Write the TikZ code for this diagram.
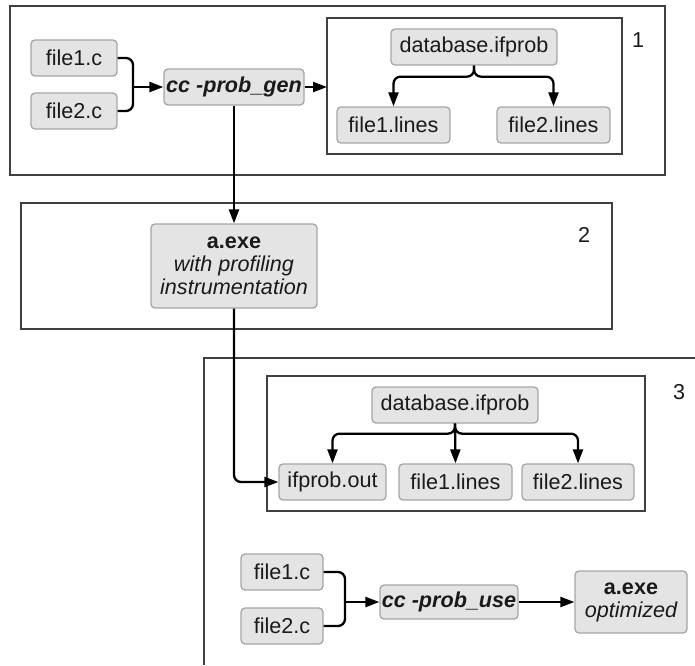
\documentclass[tikz,border=0pt]{standalone}
\usepackage{fontspec}
\setmainfont{Liberation Sans}
\usetikzlibrary{arrows.meta}
\definecolor{nodefill}{HTML}{E4E4E4}
\definecolor{nodeline}{HTML}{A6A6A6}
\definecolor{boxline}{HTML}{404040}
\definecolor{txt}{HTML}{1A1A1A}
\tikzset{
  fbox/.style={draw=nodeline, fill=nodefill, line width=1.3pt, rounded corners=4pt,
    inner sep=0pt, align=center, text=txt, font=\fontsize{21.6}{23}\selectfont},
  frame/.style={draw=boxline, line width=1.2pt},
  conn/.style={line width=2.3pt, rounded corners=7pt},
  arr/.style={conn, -{Triangle[length=14pt,width=10pt]}},
  lbl/.style={font=\fontsize{21.6}{23}\selectfont, text=txt, inner sep=0pt}
}
\begin{document}
\begin{tikzpicture}[x=1pt,y=-1pt]
\useasboundingbox (0,0) rectangle (695,665);
% frames
\draw[frame] (10,6) rectangle (665,175);
\draw[frame] (327,18) rectangle (622,154);
\draw[frame] (21,203) rectangle (612,329);
\draw[frame] (695,358) -- (204,358) -- (204,665);
\draw[frame] (267,376) rectangle (645,511);
\node[lbl] (n1) at (638,40) {1};
\node[lbl] (n2) at (584,235) {2};
\node[lbl] (n3) at (679,392) {3};
% step 1
\node[fbox, minimum width=86pt, minimum height=36pt] (f1c) at (74,58) {file1.c};
\node[fbox, minimum width=86pt, minimum height=36pt] (f2c) at (74,111) {file2.c};
\node[fbox, minimum width=140pt, minimum height=36pt] (ccg) at (234,87) {\bfseries\itshape cc -prob\_gen};
\coordinate (b1) at (133,87);
\coordinate (in1) at (327,87);
\node[fbox, minimum width=166pt, minimum height=36pt] (db1) at (474,47) {database.ifprob};
\node[fbox, minimum width=113pt, minimum height=36pt] (l11) at (393.5,125) {file1.lines};
\node[fbox, minimum width=113pt, minimum height=36pt] (l12) at (553.5,125) {file2.lines};
% step 2
\node[fbox, minimum width=166pt, minimum height=84pt] (aexe) at (234,266) {\textbf{a.exe}\\\itshape with profiling\\\itshape instrumentation};
% step 3
\node[fbox, minimum width=166pt, minimum height=36pt] (db3) at (455,405) {database.ifprob};
\node[fbox, minimum width=107pt, minimum height=36pt] (ifo) at (332.5,482) {ifprob.out};
\node[fbox, minimum width=113pt, minimum height=36pt] (l31) at (455.5,482) {file1.lines};
\node[fbox, minimum width=112pt, minimum height=36pt] (l32) at (578,482) {file2.lines};
\node[fbox, minimum width=82pt, minimum height=36pt] (f1u) at (282,572) {file1.c};
\node[fbox, minimum width=82pt, minimum height=36pt] (f2u) at (282,626) {file2.c};
\node[fbox, minimum width=138pt, minimum height=34pt] (ccu) at (449,602) {\bfseries\itshape cc -prob\_use};
\node[fbox, minimum width=112pt, minimum height=62pt] (aopt) at (631,602) {\textbf{a.exe}\\\itshape optimized};
\coordinate (b3) at (345,602);
% connectors
\draw[conn] (f1c.east) -| (b1) |- (f2c.east);
\draw[arr] (b1) -- (ccg.west);
\draw[arr] (ccg.east) -- (in1);
\draw[arr] (db1.south) -- ++(0,11) -| (l11.north);
\draw[arr] (db1.south) -- ++(0,11) -| (l12.north);
\draw[arr] (ccg.south) -- (aexe.north);
\draw[arr] (aexe.south) |- (ifo.west);
\draw[arr] (db3.south) -- ++(0,10) -| (ifo.north);
\draw[arr] (db3.south) -- (l31.north);
\draw[arr] (db3.south) -- ++(0,10) -| (l32.north);
\draw[conn] (f1u.east) -| (b3) |- (f2u.east);
\draw[arr] (b3) -- (ccu.west);
\draw[arr] (ccu.east) -- (aopt.west);
\end{tikzpicture}
\end{document}
